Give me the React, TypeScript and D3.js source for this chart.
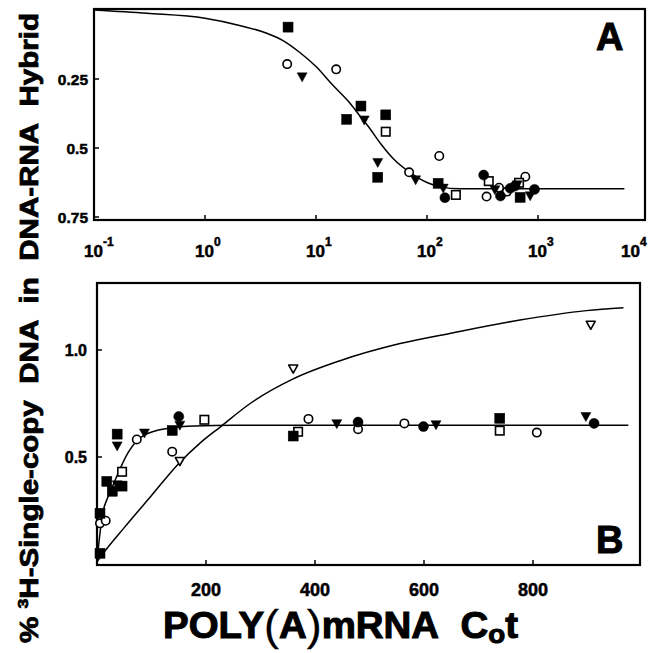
import React from "react";
import * as d3 from "d3";

// ---------- axis ticks / labels ----------
const aXTicks = [0.1, 1, 10, 100, 1000, 10000];
const aXExps = ["-1", "0", "1", "2", "3", "4"];
const aYTicks = [0.25, 0.5, 0.75];
const aYLabels = ["0.25", "0.5", "0.75"];
const bXTicks = [200, 400, 600, 800];
const bXLabels = ["200", "400", "600", "800"];
const bYTicks = [0.5, 1.0];
const bYLabels = ["0.5", "1.0"];

// ---------- Panel A (log Cot) ----------
const aFilledSquares: [number, number][] = [
  [5.6, 0.062], [25.4, 0.348], [18.9, 0.396], [42.5, 0.38], [36, 0.606], [126, 0.628], [690, 0.679],
];
const aOpenCircles: [number, number][] = [
  [5.5, 0.196], [15.2, 0.215], [129, 0.529], [69, 0.588], [344, 0.676], [446, 0.644], [525, 0.658], [769, 0.604],
];
const aFilledTriangles: [number, number][] = [
  [7.5, 0.243], [27.2, 0.399], [36, 0.553], [79, 0.616], [140, 0.646], [409, 0.652], [650, 0.634], [850, 0.674],
];
const aOpenSquares: [number, number][] = [
  [42.5, 0.441], [182, 0.67], [360, 0.62], [675, 0.626],
];
const aFilledCircles: [number, number][] = [
  [145, 0.68], [324, 0.598], [459, 0.674], [563, 0.646], [620, 0.638], [930, 0.65],
];
const aCurveX = [0.1, 0.3, 1, 2, 3.6, 5, 7.2, 10, 14, 20, 25, 30, 38, 50, 71, 100, 130, 200, 6000];
const aCurveY = [0.0, 0.012, 0.03, 0.055, 0.084, 0.11, 0.155, 0.205, 0.27, 0.335, 0.385, 0.425, 0.483, 0.54, 0.59, 0.625, 0.64, 0.648, 0.648];

// ---------- Panel B (linear Cot) ----------
const bFilledSquares: [number, number][] = [
  [37, 0.607], [138, 0.624], [360, 0.598], [739, 0.681], [18, 0.386], [28, 0.34], [46, 0.364], [5.5, 0.237], [5.5, 0.05],
];
const bFilledTriangles: [number, number][] = [
  [37, 0.551], [87, 0.611], [152, 0.648], [440, 0.655], [622, 0.65], [897, 0.688], [37, 0.369],
];
const bOpenCircles: [number, number][] = [
  [73, 0.582], [138, 0.525], [388, 0.678], [479, 0.63], [564, 0.657], [807, 0.614], [5.5, 0.19], [16, 0.202],
];
const bFilledCircles: [number, number][] = [
  [150, 0.689], [479, 0.663], [599, 0.642], [912, 0.657],
];
const bOpenSquares: [number, number][] = [
  [46, 0.431], [197, 0.674], [369, 0.618], [739, 0.623],
];
const bOpenTriangles: [number, number][] = [
  [152, 0.48], [360, 0.912], [906, 1.117],
];
const bFastX = [0, 2, 5.5, 11.6, 18, 24, 36, 57, 85, 131, 180, 250, 975];
const bFastY = [0, 0.06, 0.145, 0.25, 0.3, 0.335, 0.408, 0.52, 0.6, 0.634, 0.645, 0.648, 0.648];
const bSlowX = [0, 10, 50, 100, 150, 189, 226, 281, 360, 446, 556, 654, 776, 898, 966];
const bSlowY = [0.01, 0.045, 0.17, 0.32, 0.47, 0.565, 0.64, 0.75, 0.865, 0.95, 1.03, 1.081, 1.14, 1.184, 1.198];

const FONT = "'Liberation Sans', Arial, Helvetica, sans-serif";

type Shape = "square" | "circle" | "tri";

function Marker({ shape, filled, cx, cy, s = 10 }: { shape: Shape; filled: boolean; cx: number; cy: number; s?: number }) {
  const fill = filled ? "#000" : "#fff";
  const sw = filled ? 0.5 : 1.6;
  if (shape === "square") {
    const d = filled ? s : s - 1.5;
    return <rect x={cx - d / 2} y={cy - d / 2} width={d} height={d} fill={fill} stroke="#000" strokeWidth={sw} />;
  }
  if (shape === "circle") {
    const r = filled ? s / 2 : s / 2 - 0.8;
    return <circle cx={cx} cy={cy} r={r} fill={fill} stroke="#000" strokeWidth={sw} />;
  }
  const w = filled ? s : s - 1;
  const p = `M${cx - w / 2},${cy - w * 0.42}L${cx + w / 2},${cy - w * 0.42}L${cx},${cy + w * 0.48}Z`;
  return <path d={p} fill={fill} stroke="#000" strokeWidth={sw} strokeLinejoin="round" />;
}

export default function App() {
  // Panel A scales
  const ax = d3.scaleLog().domain([0.1, 10000]).range([94, 649]);
  const ay = d3.scaleLinear().domain([0, 1]).range([10, 286]);
  const aLeft = 94, aRight = 645, aTop = 9, aBottom = 220;

  // Panel B scales
  const bx = d3.scaleLinear().domain([0, 1000]).range([97, 642]);
  const by = d3.scaleLinear().domain([0, 1]).range([564, 350]);
  const bLeft = 97, bRight = 640, bTop = 283, bBottom = 565;

  const lineA = d3
    .line<number>()
    .x((_, i) => ax(aCurveX[i]))
    .y((d) => ay(d))
    .curve(d3.curveMonotoneX);
  const lineBFast = d3
    .line<number>()
    .x((_, i) => bx(bFastX[i]))
    .y((d) => by(d))
    .curve(d3.curveMonotoneX);
  const lineBSlow = d3
    .line<number>()
    .x((_, i) => bx(bSlowX[i]))
    .y((d) => by(d))
    .curve(d3.curveMonotoneX);

  const renderSeries = (
    data: [number, number][],
    shape: Shape,
    filled: boolean,
    sx: (v: number) => number,
    sy: (v: number) => number,
    key: string
  ) => data.map((d, i) => <Marker key={key + i} shape={shape} filled={filled} cx={sx(d[0])} cy={sy(d[1])} />);

  const heavy = { stroke: "#000", strokeWidth: 0.5 };

  return (
    <svg
      width={651}
      height={653}
      viewBox="0 0 651 653"
      style={{ position: "absolute", left: 0, top: 0, background: "#fff" }}
      fontFamily={FONT}
      fontWeight={700}
    >
      <rect x={0} y={0} width={651} height={653} fill="#fff" />

      {/* ================= Panel A ================= */}
      <g>
        <rect x={aLeft} y={aTop} width={aRight - aLeft} height={aBottom - aTop} fill="none" stroke="#000" strokeWidth={2.2} />
        {aXTicks.slice(1, 5).map((t) => (
          <line key={"axt" + t} x1={ax(t)} x2={ax(t)} y1={aBottom} y2={aBottom - 5} stroke="#000" strokeWidth={1.5} />
        ))}
        {aXTicks.map((t, i) => (
          <text key={"axl" + t} x={Math.min(ax(t) - 10, 621)} y={257} fontSize={17} textAnchor="start" {...heavy}>
            10
            <tspan dy={-11} fontSize={12}>
              {aXExps[i]}
            </tspan>
          </text>
        ))}
        {aYTicks.map((t, i) => (
          <g key={"ayt" + t}>
            <line x1={aLeft} x2={aLeft + 5} y1={ay(t)} y2={ay(t)} stroke="#000" strokeWidth={1.5} />
            <text x={aLeft - 6} y={ay(t) + 5.5} fontSize={15.5} textAnchor="end" {...heavy}>
              {aYLabels[i]}
            </text>
          </g>
        ))}
        <path d={lineA(aCurveY) || ""} fill="none" stroke="#000" strokeWidth={1.5} />
        {renderSeries(aOpenCircles, "circle", false, ax, ay, "aoc")}
        {renderSeries(aOpenSquares, "square", false, ax, ay, "aos")}
        {renderSeries(aFilledSquares, "square", true, ax, ay, "afs")}
        {renderSeries(aFilledTriangles, "tri", true, ax, ay, "aft")}
        {renderSeries(aFilledCircles, "circle", true, ax, ay, "afc")}
        <text x={596} y={50} fontSize={38} fontWeight={900} stroke="#000" strokeWidth={1}>
          A
        </text>
      </g>

      {/* ================= Panel B ================= */}
      <g>
        <rect x={bLeft} y={bTop} width={bRight - bLeft} height={bBottom - bTop} fill="none" stroke="#000" strokeWidth={2.2} />
        {bXTicks.map((t, i) => (
          <g key={"bxt" + t}>
            <line x1={bx(t)} x2={bx(t)} y1={bBottom} y2={bBottom - 5} stroke="#000" strokeWidth={1.5} />
            <text x={bx(t)} y={596} fontSize={18} textAnchor="middle" {...heavy}>
              {bXLabels[i]}
            </text>
          </g>
        ))}
        {bYTicks.map((t, i) => (
          <g key={"byt" + t}>
            <line x1={bLeft} x2={bLeft + 5} y1={by(t)} y2={by(t)} stroke="#000" strokeWidth={1.5} />
            <text x={bLeft - 10} y={by(t) + 5.5} fontSize={16} textAnchor="end" {...heavy}>
              {bYLabels[i]}
            </text>
          </g>
        ))}
        <path d={lineBFast(bFastY) || ""} fill="none" stroke="#000" strokeWidth={1.5} />
        <path d={lineBSlow(bSlowY) || ""} fill="none" stroke="#000" strokeWidth={1.5} />
        {renderSeries(bOpenCircles, "circle", false, bx, by, "boc")}
        {renderSeries(bOpenSquares, "square", false, bx, by, "bos")}
        {renderSeries(bOpenTriangles, "tri", false, bx, by, "bot")}
        {renderSeries(bFilledSquares, "square", true, bx, by, "bfs")}
        {renderSeries(bFilledTriangles, "tri", true, bx, by, "bft")}
        {renderSeries(bFilledCircles, "circle", true, bx, by, "bfc")}
        <text x={596} y={553} fontSize={38} fontWeight={900} stroke="#000" strokeWidth={1}>
          B
        </text>
      </g>

      {/* ================= Axis titles ================= */}
      <text
        transform="translate(38,643) rotate(-90)"
        fontSize={25}
        textAnchor="start"
        textLength={630}
        lengthAdjust="spacingAndGlyphs"
        stroke="#000"
        strokeWidth={0.8}
      >
        %{"\u00a0"}
        <tspan dy={-10} fontSize={15}>
          3
        </tspan>
        <tspan dy={10}>H-Single-copy{"\u00a0\u00a0"}DNA{"\u00a0\u00a0"}in{"\u00a0\u00a0"}DNA-RNA{"\u00a0\u00a0"}Hybrid</tspan>
      </text>

      <text x={163} y={638} fontSize={36} textLength={355} lengthAdjust="spacingAndGlyphs" stroke="#000" strokeWidth={1}>
        POLY
        <tspan fontSize={42} dy={2} fontWeight={400} strokeWidth={0.3}>(</tspan>
        <tspan fontSize={36} dy={-2}>A</tspan>
        <tspan fontSize={42} dy={2} fontWeight={400} strokeWidth={0.3}>)</tspan>
        <tspan fontSize={36} dy={-2}>mRNA{"\u00a0\u00a0"}C</tspan>
        <tspan fontSize={26} dy={5}>o</tspan>
        <tspan fontSize={36} dy={-5}>t</tspan>
      </text>
    </svg>
  );
}
